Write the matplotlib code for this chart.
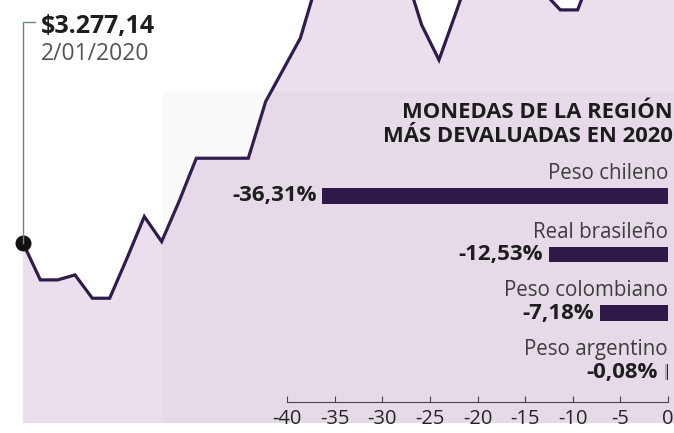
import matplotlib.pyplot as plt
from matplotlib.patches import Rectangle
from matplotlib.lines import Line2D

plt.rcParams['font.family'] = ['Open Sans', 'DejaVu Sans']

# dólar en Colombia, jornadas desde el 2/01/2020 (pesos por dólar)
jornadas = list(range(39))
dolar = [3277.14, 3255, 3255, 3258, 3244, 3244, 3268, 3293, 3278, 3302,
         3328, 3328, 3328, 3328, 3362, 3381, 3400, 3435, 3447, 3453,
         3450, 3447, 3441, 3408, 3387, 3416, 3446, 3453, 3456, 3447,
         3428, 3417, 3417, 3444, 3450, 3459, 3465, 3471, 3474]

# monedas más devaluadas (de abajo hacia arriba)
monedas = ['Peso argentino', 'Peso colombiano', 'Real brasileño', 'Peso chileno']
variacion = [-0.08, -7.18, -12.53, -36.31]
etiquetas = ['-0,08%', '-7,18%', '-12,53%', '-36,31%']
ticks = [-40, -35, -30, -25, -20, -15, -10, -5, 0]

W, H = 674, 433
linea_color = '#2f1c4c'
relleno = '#ebdeed'
barra_color = '#2b1548'

fig = plt.figure(figsize=(W / 100, H / 100), dpi=100)
fig.patch.set_facecolor('white')

# grafico de linea (ocupa todo el fondo)
ax = fig.add_axes([23 / W, 10 / H, 651 / W, 423 / H])
ax.set_xlim(0, 37.56)
ax.set_ylim(3169.14, 3422.94)
ax.fill_between(jornadas, dolar, 3169.14, color=relleno, lw=0, zorder=1)
ax.plot(jornadas, dolar, color=linea_color, lw=2.3, zorder=3,
        solid_joinstyle='miter')
ax.plot(jornadas[0], dolar[0], 'o', color='#111111', ms=10.5, zorder=4,
        clip_on=False)
ax.axis('off')

# recuadro gris del inserto
fig.add_artist(Rectangle((163 / W, 10 / H), (W - 163) / W, (423 - 92) / H,
                         transform=fig.transFigure, facecolor='#7a8a78',
                         alpha=0.04, lw=0, zorder=2))

# linea de referencia del primer dato
fig.add_artist(Line2D([23 / W, 23 / W, 35 / W],
                      [1 - 243 / H, 1 - 22 / H, 1 - 22 / H],
                      transform=fig.transFigure, color='#6f8585', lw=1.0,
                      zorder=2))
fig.text(41 / W, 1 - 26 / H, '$3.277,14', fontsize=18, fontweight='bold',
         color='#1e1e1e', va='center', ha='left')
fig.text(41 / W, 1 - 54 / H, '2/01/2020', fontsize=16.5, color='#555555',
         va='center', ha='left')

# inserto de barras
bx = fig.add_axes([287 / W, (H - 402) / H, (668 - 287) / W, (402 - 160) / H])
bx.patch.set_alpha(0)
bx.set_xlim(-40, 0)
bx.set_ylim(-0.51, 3.61)
pos = list(range(len(monedas)))
bx.barh(pos, variacion, height=0.27, color=barra_color, zorder=3)
bx.barh(pos[0], -0.3, height=0.27, color='#b8b0bc', zorder=2)
for p, v, nombre, et in zip(pos, variacion, monedas, etiquetas):
    bx.text(0, p + 0.38, nombre, ha='right', va='center', fontsize=14.8,
            color='#3a3a3a')
    bx.annotate(et, (min(v, -0.5), p), xytext=(-4, 0),
                textcoords='offset points', ha='right', va='center',
                fontsize=16, fontweight='bold', color='#1a1a1a')
for s in ['top', 'right', 'left']:
    bx.spines[s].set_visible(False)
bx.spines['bottom'].set_color('#444444')
bx.spines['bottom'].set_linewidth(0.8)
bx.set_yticks([])
bx.set_xticks(ticks)
bx.set_xticklabels([str(t) for t in ticks])
bx.tick_params(axis='x', direction='in', length=4, width=0.8, color='#444444',
               pad=5, labelsize=14.5, labelcolor='#222222')
for lab in bx.get_xticklabels():
    lab.set_family(['Liberation Sans Narrow', 'Open Sans', 'DejaVu Sans'])

fig.text(673 / W, 1 - 113 / H, 'MONEDAS DE LA REGIÓN', fontsize=15.8,
         fontweight='bold', ha='right', va='center', color='#1c1c1c')
fig.text(673 / W, 1 - 136 / H, 'MÁS DEVALUADAS EN 2020', fontsize=15.8,
         fontweight='bold', ha='right', va='center', color='#1c1c1c')

fig.savefig('out.png', dpi=100)
